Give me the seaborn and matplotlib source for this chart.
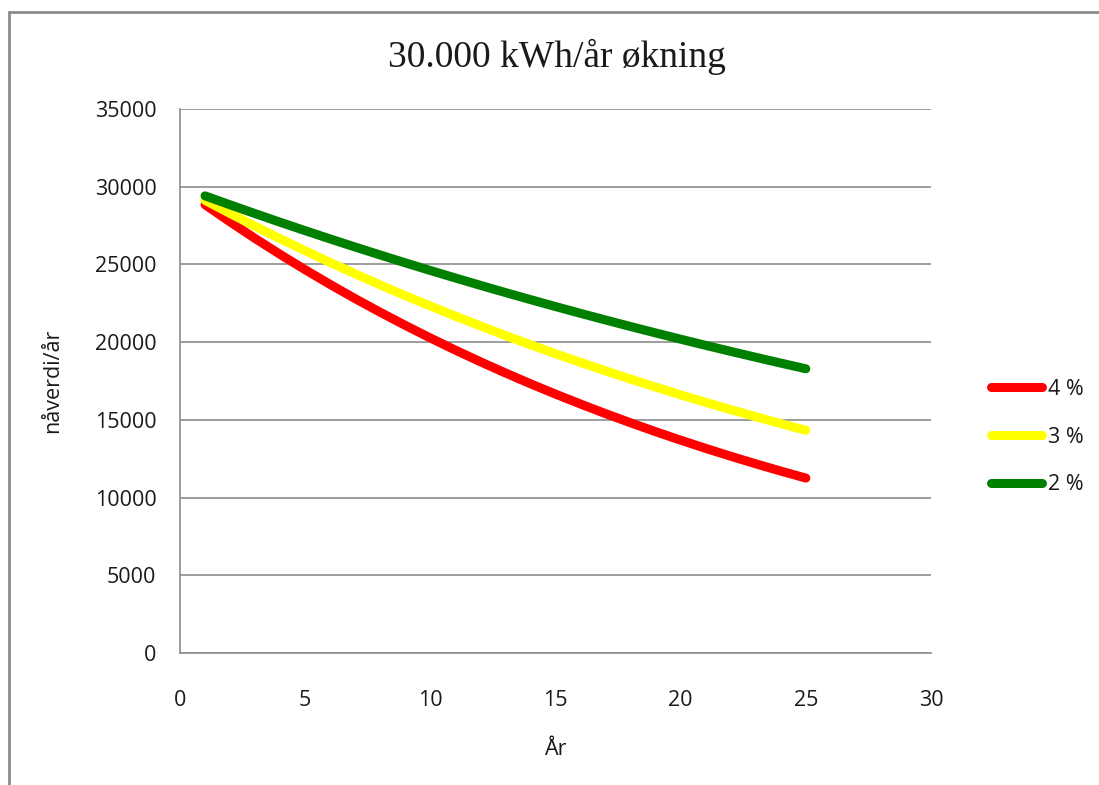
import pandas as pd
import matplotlib.pyplot as plt
import seaborn as sns
from matplotlib.lines import Line2D

# År (x) og nåverdi per år for hver rente
years = list(range(1, 26))
pv_4 = [28846, 27737, 26670, 25644, 24658, 23709, 22797, 21921, 21078, 20267,
        19487, 18738, 18017, 17324, 16658, 16017, 15401, 14809, 14239, 13692,
        13165, 12659, 12172, 11704, 11254]
pv_3 = [29126, 28278, 27454, 26655, 25878, 25125, 24393, 23682, 22992, 22323,
        21673, 21041, 20429, 19834, 19256, 18695, 18151, 17622, 17109, 16610,
        16126, 15657, 15201, 14758, 14328]
pv_2 = [29412, 28835, 28270, 27715, 27172, 26639, 26117, 25605, 25103, 24610,
        24128, 23655, 23191, 22736, 22290, 21853, 21425, 21005, 20593, 20189,
        19793, 19405, 19025, 18652, 18286]
series_labels = ['4 %', '3 %', '2 %']
series_colors = ['#FF0000', '#FFFF00', '#008000']

df = pd.concat([
    pd.DataFrame({'År': years, 'nåverdi/år': vals, 'rente': lab})
    for vals, lab in zip([pv_4, pv_3, pv_2], series_labels)
])

sns.set_style('white')
plt.rcParams['font.family'] = ['Open Sans', 'DejaVu Sans']

fig = plt.figure(figsize=(10.99, 7.85), dpi=100)
ax = fig.add_axes([180 / 1099, 1 - 653 / 785, (931 - 180) / 1099, (653 - 109) / 785])

sns.lineplot(data=df, x='År', y='nåverdi/år', hue='rente', hue_order=series_labels,
             palette=series_colors, linewidth=6.5, solid_capstyle='round', ax=ax)

grey = '#8c8c8c'
txt = '#1a1a1a'
ax.set_xlim(0, 30)
ax.set_ylim(0, 35000)
ax.set_xticks(range(0, 31, 5))
ax.set_yticks(range(0, 35001, 5000))
ax.yaxis.grid(True, color=grey, linewidth=1.2)
ax.xaxis.grid(False)
ax.set_axisbelow(True)
for s in ['top', 'right']:
    ax.spines[s].set_visible(False)
for s in ['left', 'bottom']:
    ax.spines[s].set_color(grey)
    ax.spines[s].set_linewidth(1.2)
ax.tick_params(axis='both', direction='out', length=6, width=1.2, color=grey,
               labelsize=15.5, labelcolor=txt)
ax.tick_params(axis='x', pad=21)
ax.tick_params(axis='y', pad=11)

ax.set_xlabel('År', fontsize=15.5, color=txt, labelpad=20)
ax.set_ylabel('nåverdi/år', fontsize=15.5, color=txt, labelpad=23)

fig.text(557 / 1099, 1 - 57 / 785, '30.000 kWh/år økning', family='Liberation Serif',
         fontsize=27, ha='center', va='center', color=txt)

ax.legend(loc='center left', bbox_to_anchor=(991 / 1099, 1 - 437 / 785),
          bbox_transform=fig.transFigure, frameon=False, fontsize=15.5,
          handlelength=2.35, handletextpad=0.3, labelspacing=1.25,
          borderpad=0, borderaxespad=0, title=None, labelcolor=txt)

# ramme rundt diagrammet
fig.add_artist(Line2D([9 / 1099, 9 / 1099], [0, 1 - 12 / 785], color=grey, lw=2))
fig.add_artist(Line2D([9 / 1099, 1], [1 - 12 / 785, 1 - 12 / 785], color=grey, lw=2))

plt.savefig('out.png', dpi=100)
